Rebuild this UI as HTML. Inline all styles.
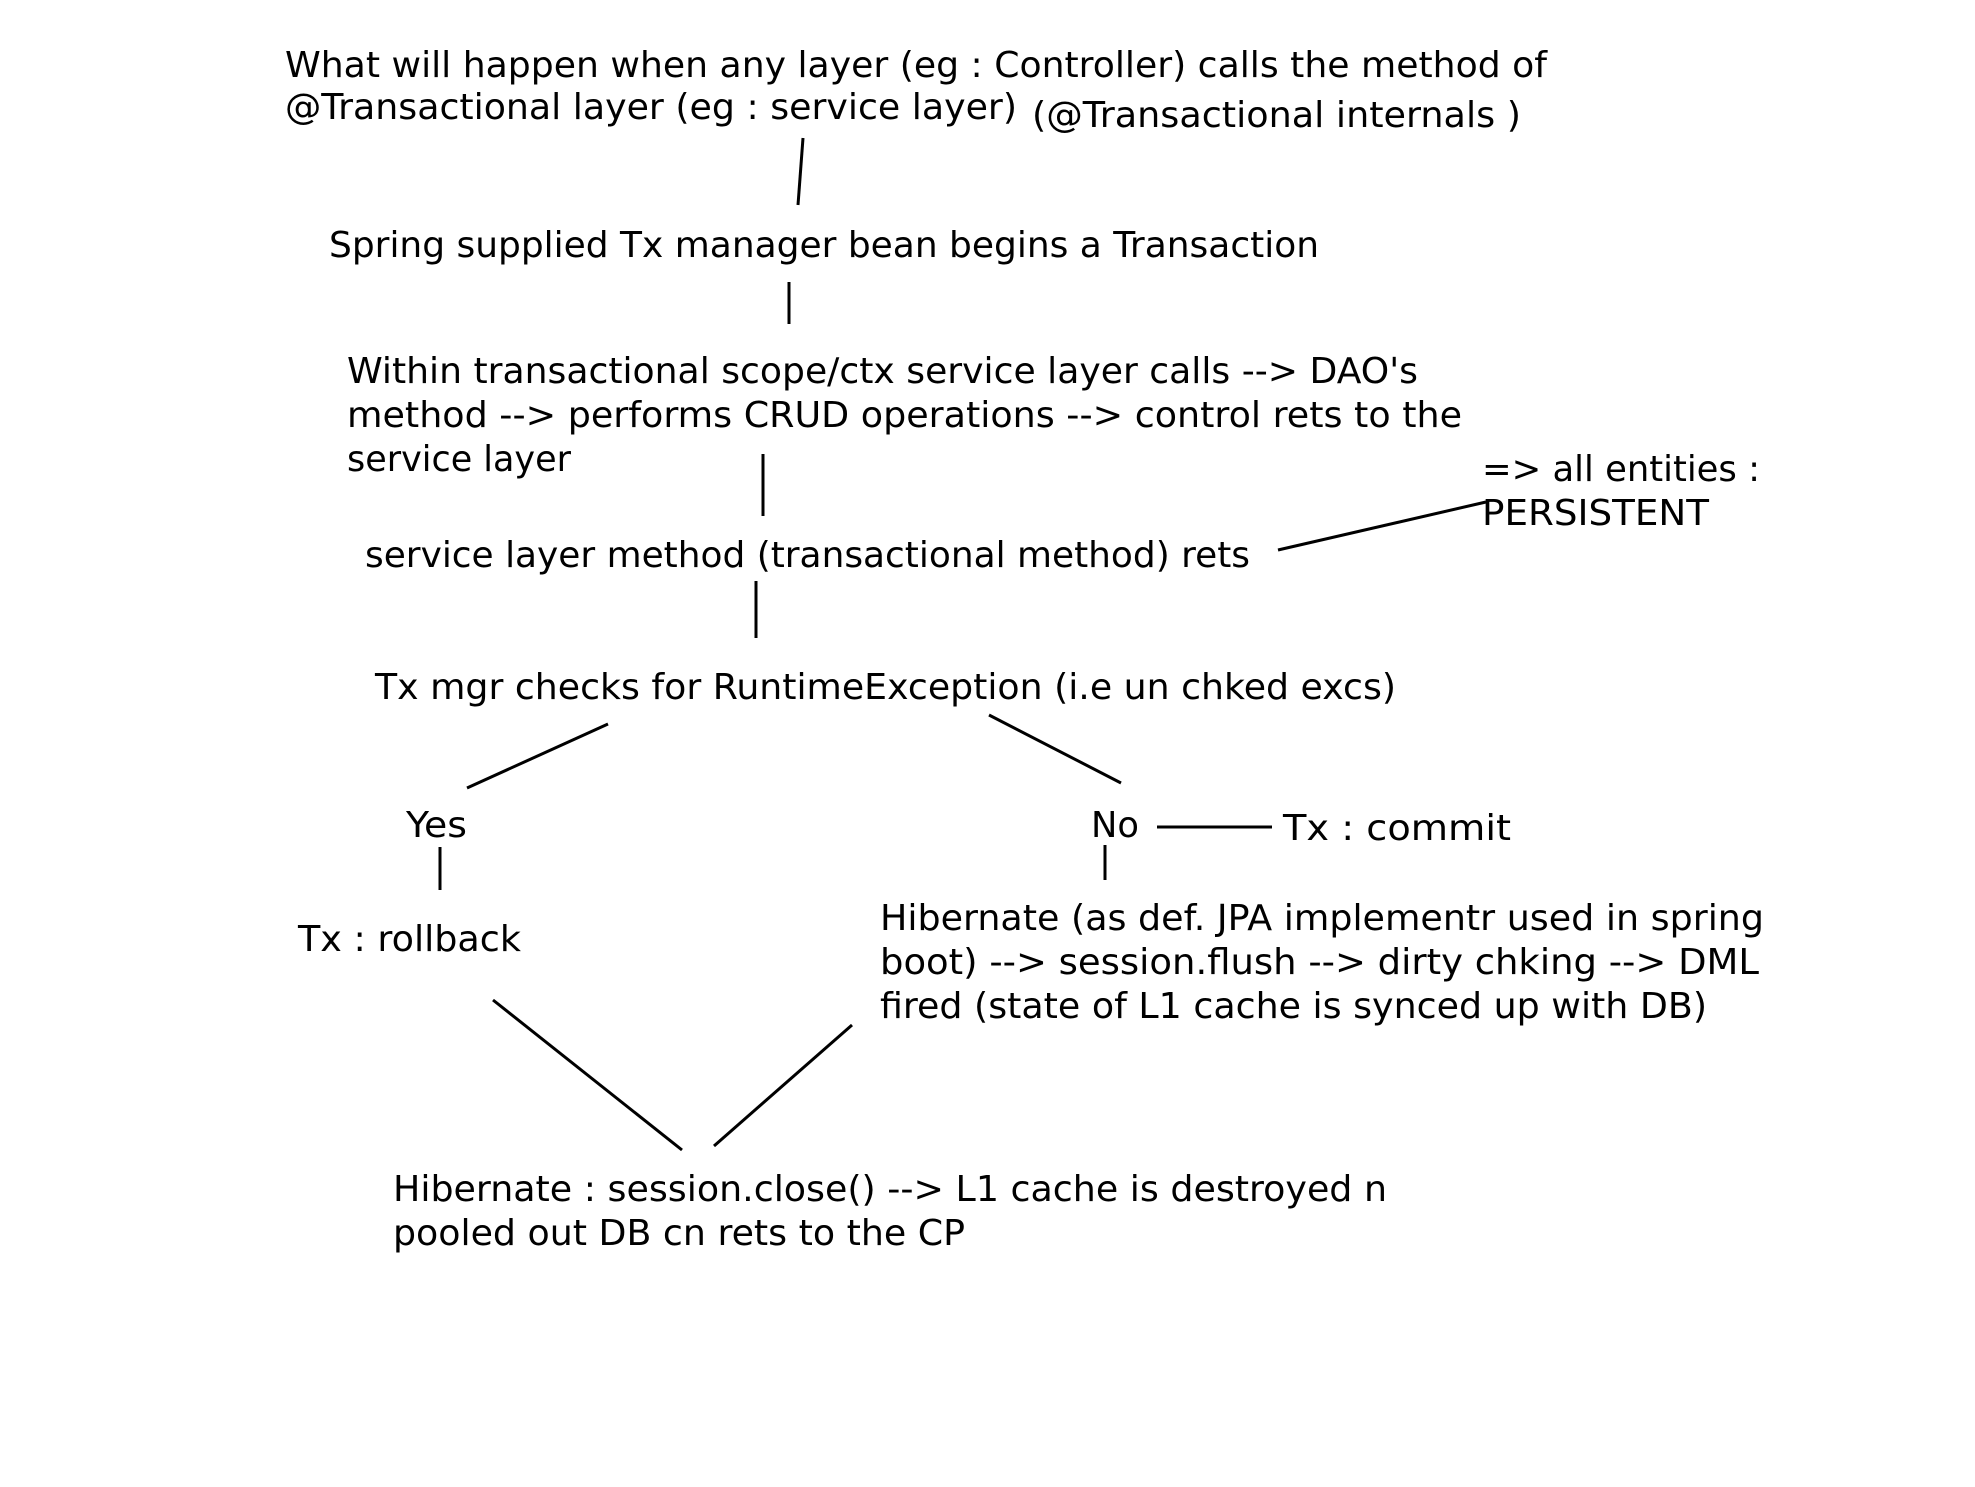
<!DOCTYPE html>
<html><head><meta charset="utf-8"><style>
html,body{margin:0;padding:0;background:#fff;}
svg{display:block;}
text{font-family:"DejaVu Sans","Liberation Sans",sans-serif;font-size:36px;fill:#000;}
</style></head><body>
<svg width="1975" height="1487" viewBox="0 0 1975 1487" xmlns="http://www.w3.org/2000/svg">
<rect width="1975" height="1487" fill="#fff"/>
<g>
<text x="285" y="77" textLength="1262" lengthAdjust="spacingAndGlyphs">What will happen when any layer (eg : Controller) calls the method of</text>
<text x="285" y="119" textLength="732" lengthAdjust="spacingAndGlyphs">@Transactional layer (eg : service layer)</text>
<text x="1032" y="127" textLength="489" lengthAdjust="spacingAndGlyphs">(@Transactional internals )</text>
<text x="329" y="257" textLength="990" lengthAdjust="spacingAndGlyphs">Spring supplied Tx manager bean begins a Transaction</text>
<text x="347" y="383" textLength="1071" lengthAdjust="spacingAndGlyphs">Within transactional scope/ctx service layer calls --&gt; DAO's</text>
<text x="347" y="427" textLength="1115" lengthAdjust="spacingAndGlyphs">method --&gt; performs CRUD operations --&gt; control rets to the</text>
<text x="347" y="471" textLength="224" lengthAdjust="spacingAndGlyphs">service layer</text>
<text x="1482" y="481" textLength="278" lengthAdjust="spacingAndGlyphs">=&gt; all entities :</text>
<text x="1482" y="525" textLength="227" lengthAdjust="spacingAndGlyphs">PERSISTENT</text>
<text x="365" y="567" textLength="885" lengthAdjust="spacingAndGlyphs">service layer method (transactional method) rets</text>
<text x="375" y="699" textLength="1021" lengthAdjust="spacingAndGlyphs">Tx mgr checks for RuntimeException (i.e un chked excs)</text>
<text x="406" y="837" textLength="61" lengthAdjust="spacingAndGlyphs">Yes</text>
<text x="1091" y="837" textLength="48" lengthAdjust="spacingAndGlyphs">No</text>
<text x="1283" y="840" textLength="228" lengthAdjust="spacingAndGlyphs">Tx : commit</text>
<text x="298" y="951" textLength="223" lengthAdjust="spacingAndGlyphs">Tx : rollback</text>
<text x="880" y="930" textLength="884" lengthAdjust="spacingAndGlyphs">Hibernate (as def. JPA implementr used in spring</text>
<text x="880" y="974" textLength="879" lengthAdjust="spacingAndGlyphs">boot) --&gt; session.flush --&gt; dirty chking --&gt; DML</text>
<text x="880" y="1018" textLength="827" lengthAdjust="spacingAndGlyphs">fired (state of L1 cache is synced up with DB)</text>
<text x="393" y="1201" textLength="994" lengthAdjust="spacingAndGlyphs">Hibernate : session.close() --&gt; L1 cache is destroyed n</text>
<text x="393" y="1245" textLength="572" lengthAdjust="spacingAndGlyphs">pooled out DB cn rets to the CP</text>
</g>
<g stroke="#000" stroke-width="3" fill="none">
<line x1="803" y1="138" x2="798" y2="205"/>
<line x1="789" y1="282" x2="789" y2="324"/>
<line x1="763" y1="454" x2="763" y2="516"/>
<line x1="1278" y1="550" x2="1486" y2="502"/>
<line x1="756" y1="581" x2="756" y2="638"/>
<line x1="608" y1="724" x2="467" y2="788"/>
<line x1="989" y1="715" x2="1121" y2="783"/>
<line x1="1157" y1="827" x2="1272" y2="827"/>
<line x1="440" y1="847" x2="440" y2="890"/>
<line x1="1105" y1="845" x2="1105" y2="880"/>
<line x1="493" y1="1000" x2="682" y2="1150"/>
<line x1="852" y1="1025" x2="714" y2="1146"/>
</g>
</svg>
</body></html>
